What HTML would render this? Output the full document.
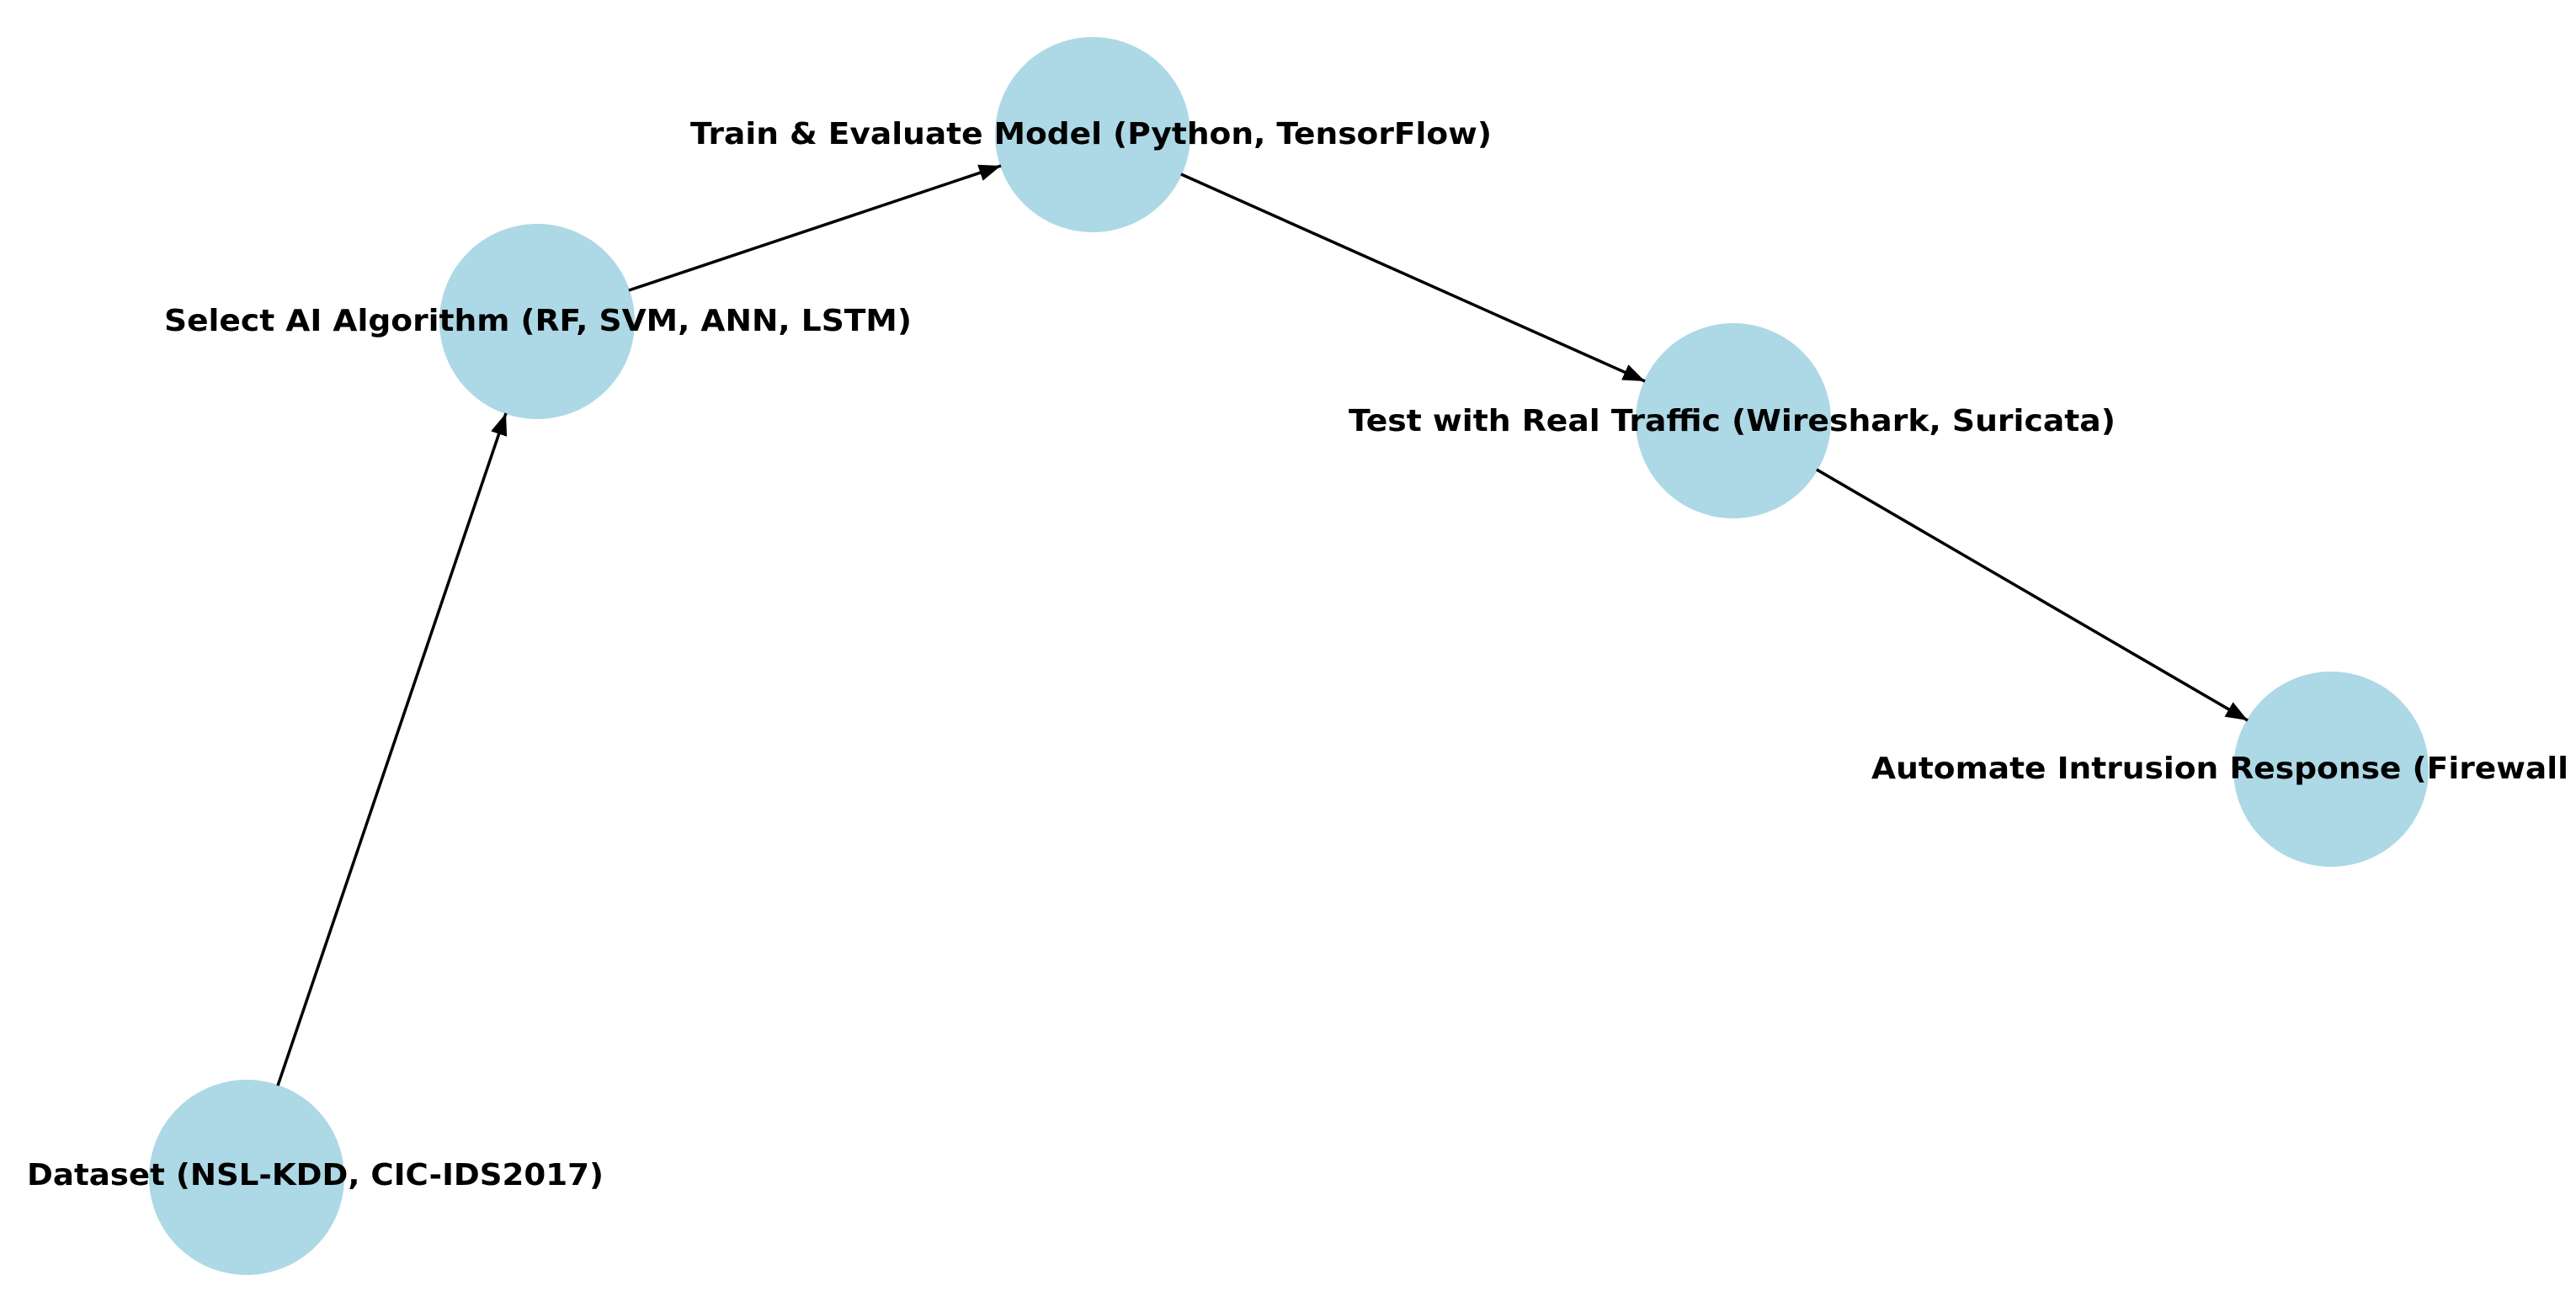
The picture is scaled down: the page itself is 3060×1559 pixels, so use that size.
<!DOCTYPE html>
<html><head><meta charset="utf-8"><style>
html,body{margin:0;padding:0;background:#fff;}
svg{display:block;}
text{font-family:"DejaVu Sans","Liberation Sans",sans-serif;font-weight:bold;font-size:36px;fill:#000;}
</style></head><body>
<svg width="3060" height="1559" viewBox="0 0 3060 1559" xmlns="http://www.w3.org/2000/svg">
<defs>
<marker id="ah" markerUnits="userSpaceOnUse" markerWidth="28" markerHeight="22" refX="26" refY="11" orient="auto">
<path d="M0,1 L26,11 L0,21 Z" fill="#000"/>
</marker>
</defs>
<g fill="#ADD8E6">
<circle cx="293" cy="1399" r="116"/>
<circle cx="638" cy="382" r="116"/>
<circle cx="1298" cy="160" r="116"/>
<circle cx="2059" cy="500" r="116"/>
<circle cx="2769" cy="914" r="116"/>
</g>
<g stroke="#000" stroke-width="3.5" marker-end="url(#ah)">
<line x1="330" y1="1290" x2="601" y2="491"/>
<line x1="747" y1="345" x2="1189" y2="197"/>
<line x1="1403" y1="207" x2="1954" y2="453"/>
<line x1="2158" y1="558" x2="2670" y2="856"/>
</g>
<text x="32" y="1408" textLength="685" lengthAdjust="spacingAndGlyphs">Dataset (NSL-KDD, CIC-IDS2017)</text>
<text x="195" y="393" textLength="888" lengthAdjust="spacingAndGlyphs">Select AI Algorithm (RF, SVM, ANN, LSTM)</text>
<text x="820" y="171" textLength="952" lengthAdjust="spacingAndGlyphs">Train &amp; Evaluate Model (Python, TensorFlow)</text>
<text x="1602" y="512" textLength="911" lengthAdjust="spacingAndGlyphs">Test with Real Traffic (Wireshark, Suricata)</text>
<text x="2223" y="925" textLength="828" lengthAdjust="spacingAndGlyphs">Automate Intrusion Response (Firewall</text>
</svg>
</body></html>
